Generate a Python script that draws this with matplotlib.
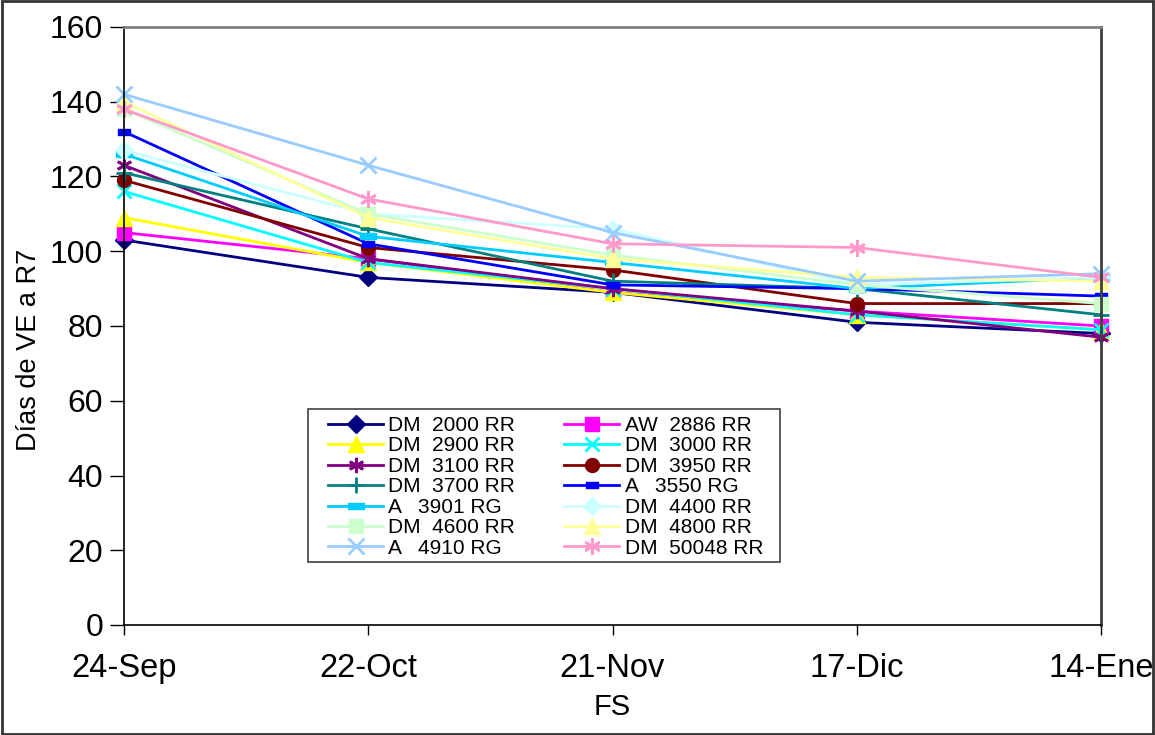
import matplotlib
matplotlib.use("Agg")
import matplotlib.pyplot as plt
from matplotlib.path import Path
from matplotlib.patches import Rectangle
import numpy as np

plt.rcParams['font.family'] = ['Liberation Sans', 'DejaVu Sans']

dates = ['24-Sep', '22-Oct', '21-Nov', '17-Dic', '14-Ene']

dm2000 = [103, 93, 89, 81, 78]
aw2886 = [105, 98, 89, 84, 80]
dm2900 = [109, 97, 89, 83, 79]
dm3000 = [116, 97, 90, 83, 79]
dm3100 = [123, 98, 90, 84, 77]
dm3950 = [119, 101, 95, 86, 86]
dm3700 = [121, 106, 92, 90, 83]
a3550 = [132, 102, 91, 90, 88]
a3901 = [126, 104, 97, 90, 93]
dm4400 = [127, 110, 106, 91, 93]
dm4600 = [138, 110, 99, 91, 86]
dm4800 = [140, 109, 98, 93, 92]
a4910 = [142, 123, 105, 92, 94]
dm50048 = [138, 114, 102, 101, 93]

labels = ['DM  2000 RR', 'AW  2886 RR', 'DM  2900 RR', 'DM  3000 RR',
          'DM  3100 RR', 'DM  3950 RR', 'DM  3700 RR', 'A   3550 RG',
          'A   3901 RG', 'DM  4400 RR', 'DM  4600 RR', 'DM  4800 RR',
          'A   4910 RG', 'DM  50048 RR']

yticks = [0, 20, 40, 60, 80, 100, 120, 140, 160]

bar_wide = Path([(-1, -0.35), (1, -0.35), (1, 0.35), (-1, 0.35), (-1, -0.35)],
                [Path.MOVETO, Path.LINETO, Path.LINETO, Path.LINETO, Path.CLOSEPOLY])
bar_small = Path([(-1, -0.6), (1, -0.6), (1, 0.6), (-1, 0.6), (-1, -0.6)],
                 [Path.MOVETO, Path.LINETO, Path.LINETO, Path.LINETO, Path.CLOSEPOLY])
asterisk = (6, 2, 0)

series = [dm2000, aw2886, dm2900, dm3000, dm3100, dm3950, dm3700, a3550,
          a3901, dm4400, dm4600, dm4800, a4910, dm50048]
colors = ['#000080', '#FF00FF', '#FFFF00', '#00FFFF', '#800080', '#800000',
          '#008080', '#0000FF', '#00CCFF', '#CCFFFF', '#CCFFCC', '#FFFF99',
          '#99CCFF', '#FF99CC']
markers = ['D', 's', '^', 'x', asterisk, 'o', '+', bar_small, bar_wide, 'D',
           's', '^', 'x', asterisk]
msizes = [9, 10, 11, 10, 11, 10, 12, 8, 12, 9, 10, 11, 12, 12]

W, H = 1155, 735
AX_L, AX_R, AX_T, AX_B = 124, 1101, 27, 625
aw, ah = AX_R - AX_L, AX_B - AX_T

fig = plt.figure(figsize=(W / 100, H / 100), dpi=100)
ax = fig.add_axes([AX_L / W, 1 - AX_B / H, aw / W, ah / H])

x = np.arange(len(dates))
handles = []
for vals, c, m, ms, lab in zip(series, colors, markers, msizes, labels):
    mew = 2.0 if m in ('x', '+', asterisk) else 1.0
    h, = ax.plot(x, vals, color=c, lw=2.0, marker=m, markersize=ms,
                 markerfacecolor=c, markeredgecolor=c, markeredgewidth=mew,
                 label=lab, clip_on=False)
    handles.append(h)

ax.set_xlim(0, len(dates) - 1)
ax.set_ylim(0, 160)
ax.set_yticks(yticks)
ax.set_xticks(x)
ax.set_xticklabels(dates)
ax.tick_params(axis='y', direction='out', length=10, width=1, labelsize=23, pad=5)
ax.tick_params(axis='x', direction='out', length=7, width=1, labelsize=23.5, pad=13)

for s in ['left', 'bottom']:
    ax.spines[s].set_color('black')
    ax.spines[s].set_linewidth(1.2)
ax.spines['top'].set_color('#808080')
ax.spines['top'].set_linewidth(2)
ax.spines['right'].set_color('#404040')
ax.spines['right'].set_linewidth(2)

ax.set_ylabel('Días de VE a R7', fontsize=19.5)
ax.yaxis.set_label_coords((42 - AX_L) / aw, (AX_B - 350) / ah)
ax.set_xlabel('FS', fontsize=21)
ax.xaxis.set_label_coords((612 - AX_L) / aw, (AX_B - 693) / ah)

# legend box
box = Rectangle(((308 - AX_L) / aw, (AX_B - 562) / ah), (780 - 308) / aw, (562 - 409) / ah,
                transform=ax.transAxes, facecolor='white', edgecolor='#404040',
                linewidth=1.2, zorder=4.5, clip_on=False)
ax.add_patch(box)

order = [0, 2, 4, 6, 8, 10, 12, 1, 3, 5, 7, 9, 11, 13]
leg = ax.legend([handles[i] for i in order], [labels[i] for i in order],
                ncol=2, loc='upper left',
                bbox_to_anchor=((328 - AX_L) / aw, (AX_B - 416) / ah),
                fontsize=15, frameon=False, borderpad=0, labelspacing=0.07,
                handlelength=2.65, handletextpad=0.25, columnspacing=2.35,
                borderaxespad=0)
leg.set_zorder(5)

fig.patches.append(Rectangle((0.002, 0.002), 0.996, 0.996, transform=fig.transFigure,
                             fill=False, edgecolor='#333333', linewidth=2))

fig.savefig('out.png', dpi=100)
